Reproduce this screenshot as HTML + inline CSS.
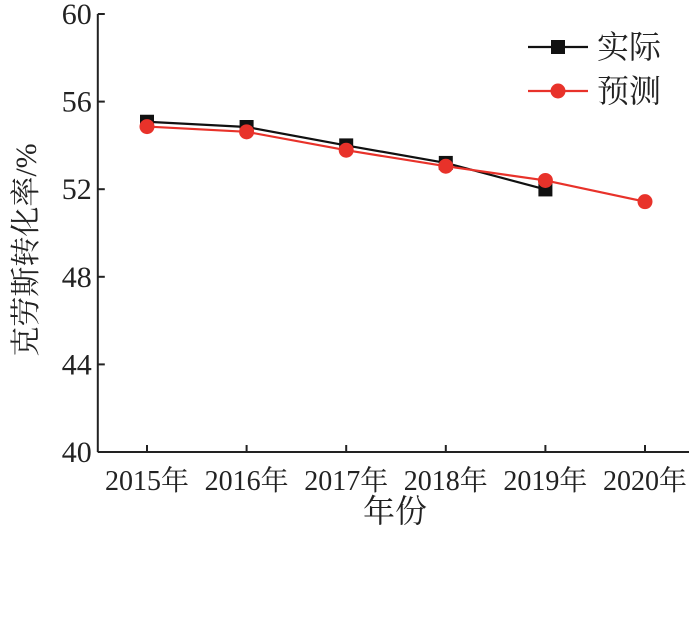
<!DOCTYPE html>
<html><head><meta charset="utf-8"><style>body{margin:0;background:#fff}svg{display:block}text{font-family:"Liberation Serif","Noto Serif CJK SC",serif;fill:#222}</style></head>
<body>
<svg id="chart" width="700" height="624" viewBox="0 0 700 624"></svg>
<script>
const categories=["2015年","2016年","2017年","2018年","2019年","2020年"];
const actual=[55.08,54.84,54.0,53.2,51.99];
const predicted=[54.86,54.62,53.78,53.05,52.4,51.43];
const yTicks=[40,44,48,52,56,60];
const svg=document.getElementById('chart');
const NS='http://www.w3.org/2000/svg';
function mk(t,a,p){const e=document.createElementNS(NS,t);for(const k in a)e.setAttribute(k,a[k]);(p||svg).appendChild(e);return e;}
const x0=97.8,yB=452,yT=14;
function xs(i){return 147+i*99.6;}
function ys(v){return yB-(v-40)/20*(yB-yT);}
let g=mk('g',{});
mk('line',{x1:x0,y1:yT,x2:x0,y2:yB,stroke:'#222','stroke-width':2},g);
mk('line',{x1:x0,y1:yB,x2:689,y2:yB,stroke:'#222','stroke-width':2},g);
yTicks.forEach(v=>{mk('line',{x1:x0,y1:ys(v),x2:x0+7,y2:ys(v),stroke:'#222','stroke-width':2},g);
const t=mk('text',{x:x0-6,y:ys(v)+10,'text-anchor':'end','font-size':30},g);t.textContent=v;
});
categories.forEach((c,i)=>{mk('line',{x1:xs(i),y1:yB,x2:xs(i),y2:yB-7,stroke:'#222','stroke-width':2},g);
const t=mk('text',{x:xs(i),y:yB+38,'text-anchor':'middle','font-size':28},g);t.textContent=c;
});
let t=mk('text',{x:395,y:522,'text-anchor':'middle','font-size':32});t.textContent='年份';

t=mk('text',{x:0,y:0,'text-anchor':'middle','font-size':30,transform:'translate(36,250) rotate(-90)'});t.textContent='克劳斯转化率/%';

function series(vals,color,sq,name){const gg=mk('g',{});
mk('polyline',{points:vals.map((v,i)=>xs(i)+','+ys(v)).join(' '),fill:'none',stroke:color,'stroke-width':2.2},gg);
vals.forEach((v,i)=>{let m;if(sq)m=mk('rect',{x:xs(i)-7,y:ys(v)-7,width:14,height:14,fill:color},gg);else m=mk('circle',{cx:xs(i),cy:ys(v),r:7.5,fill:color},gg);
});}
series(actual,'#111',true,'actual-series');
series(predicted,'#e8322a',false,'predicted-series');
const lg=mk('g',{});
mk('line',{x1:528,y1:47,x2:588,y2:47,stroke:'#111','stroke-width':2.2},lg);
mk('rect',{x:551,y:40,width:14,height:14,fill:'#111'},lg);
t=mk('text',{x:597,y:58,'font-size':32},lg);t.textContent='实际';

mk('line',{x1:528,y1:91,x2:588,y2:91,stroke:'#e8322a','stroke-width':2.2},lg);
mk('circle',{cx:558,cy:91,r:7.5,fill:'#e8322a'},lg);
t=mk('text',{x:597,y:102,'font-size':32},lg);t.textContent='预测';

</script>
</body></html>
